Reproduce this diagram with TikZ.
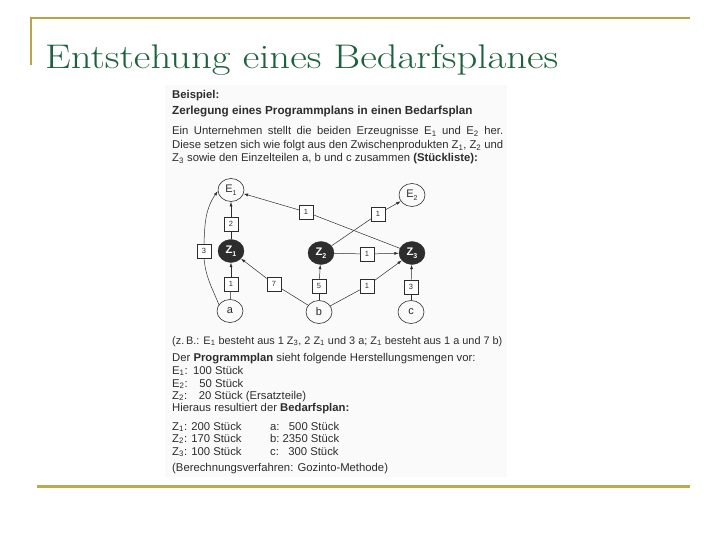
\documentclass[tikz,border=0pt]{standalone}
\usepackage{fontspec}
\usepackage{graphicx}
\usetikzlibrary{shapes.geometric,arrows.meta}
\newfontfamily\scanfont{Liberation Sans}
\definecolor{titlegreen}{RGB}{28,98,60}
\definecolor{goldline}{RGB}{188,163,72}
\definecolor{oliveline}{RGB}{184,172,78}
\definecolor{ink}{RGB}{45,45,45}
\newcommand\sbs[1]{\textsubscript{#1}}
\tikzset{
  txt/.style={anchor=base west, inner sep=0pt, text=ink, font=\scanfont\fontsize{11.3}{13}\selectfont},
  endnode/.style={ellipse, draw=ink, line width=0.6pt, minimum width=26pt, minimum height=23pt, inner sep=0pt, text=ink, font=\scanfont\fontsize{11}{11}\selectfont},
  darknode/.style={ellipse, draw=ink, fill=ink, minimum width=26pt, minimum height=23pt, inner sep=0pt, text=white, font=\scanfont\bfseries\fontsize{11}{11}\selectfont},
  qbox/.style={rectangle, draw=ink, fill=white, line width=0.5pt, minimum size=14pt, inner sep=0pt, text=ink, font=\scanfont\fontsize{7.5}{7.5}\selectfont},
  arr/.style={-{Latex[length=4.5pt,width=3pt]}, line width=0.5pt, draw=ink},
  ln/.style={line width=0.5pt, draw=ink}
}
\newcommand\lab[2]{#1\raisebox{-3pt}{\fontsize{7}{7}\selectfont #2}}
\begin{document}
\begin{tikzpicture}[x=1pt,y=-1pt]
\useasboundingbox (0,0) rectangle (720,540);
\fill[white] (0,0) rectangle (720,540);
% slide frame
\draw[goldline, line width=2pt] (30,18) -- (690,18);
\draw[goldline, line width=2pt] (31,17) -- (31,65);
\draw[oliveline, line width=3pt] (37,486) -- (690,486);
\node[anchor=base west, inner sep=0pt, text=titlegreen, font=\fontsize{34}{34}\selectfont] (title) at (45,69) {\resizebox{513pt}{24pt}{Entstehung eines Bedarfsplanes}};
% scan background
\fill[black!2] (165,85) rectangle (507,477);
% text
\node[txt, font=\scanfont\bfseries\fontsize{11.3}{13}\selectfont] (t1) at (172,99) {Beispiel:};
\node[txt, font=\scanfont\bfseries\fontsize{11.7}{13}\selectfont] (t2) at (172,115) {Zerlegung eines Programmplans in einen Bedarfsplan};
\node[txt] (t3) at (172,135) {\makebox[331pt][s]{Ein Unternehmen stellt die beiden Erzeugnisse E\sbs{1} und E\sbs{2} her.}};
\node[txt] (t4) at (172,149) {\makebox[331pt][s]{Diese setzen sich wie folgt aus den Zwischenprodukten Z\sbs{1}, Z\sbs{2} und}};
\node[txt] (t5) at (172,162) {Z\sbs{3} sowie den Einzelteilen a, b und c zusammen \textbf{(Stückliste):}};
% graph nodes
\node[endnode] (E1) at (231,190) {\lab{E}{1}};
\node[endnode] (E2) at (412,195) {\lab{E}{2}};
\node[darknode] (Z1) at (231,251) {\lab{Z}{1}};
\node[darknode] (Z2) at (321,253) {\lab{Z}{2}};
\node[darknode] (Z3) at (412,253) {\lab{Z}{3}};
\node[endnode] (a) at (230,311) {a};
\node[endnode] (b) at (319,312) {b};
\node[endnode] (c) at (411,312) {c};
% quantity boxes
\node[qbox] (k2) at (231,224) {2};
\node[qbox] (k3) at (204,251) {3};
\node[qbox] (k1a) at (231,284) {1};
\node[qbox] (k7) at (274,284) {7};
\node[qbox] (k5) at (319,286) {5};
\node[qbox] (k1b) at (367,286) {1};
\node[qbox] (k3c) at (411,287) {3};
\node[qbox] (k1m) at (367,254) {1};
\node[qbox] (k1t) at (306,212) {1};
\node[qbox] (k1e) at (378,214) {1};
% connectors
\draw[ln] (Z1) -- (k2);  \draw[arr] (k2) -- (E1);
\draw[ln] (a) -- (k1a);  \draw[arr] (k1a) -- (Z1);
\draw[ln] (a.150) to[out=112,in=-85] (k3.south);
\draw[arr] (k3.north) to[out=88,in=-125] (E1.185);
\draw[ln] (b) -- (k7);   \draw[arr] (k7) -- (Z1);
\draw[ln] (b) -- (k5);   \draw[arr] (k5) -- (Z2);
\draw[ln] (b) -- (k1b);  \draw[arr] (k1b) -- (Z3);
\draw[ln] (c) -- (k3c);  \draw[arr] (k3c) -- (Z3);
\draw[ln] (Z2) -- (k1m); \draw[arr] (k1m) -- (Z3);
\draw[ln] (Z2) -- (k1e); \draw[arr] (k1e) -- (E2);
\draw[ln] (Z3) -- (k1t); \draw[arr] (k1t) -- (E1);
% text below
\node[txt, font=\scanfont\fontsize{10.9}{13}\selectfont] (t6) at (172,344) {(z.\,B.: E\sbs{1} besteht aus 1 Z\sbs{3}, 2 Z\sbs{1} und 3 a; Z\sbs{1} besteht aus 1 a und 7 b)};
\node[txt] (t7) at (172,361) {Der \textbf{Programmplan} sieht folgende Herstellungsmengen vor:};
\node[txt] (t8) at (172,374) {E\sbs{1}: \makebox[20pt][r]{100} Stück};
\node[txt] (t9) at (172,387) {E\sbs{2}: \makebox[20pt][r]{50} Stück};
\node[txt] (t10) at (172,399) {Z\sbs{2}: \makebox[20pt][r]{20} Stück (Ersatzteile)};
\node[txt] (t11) at (172,411) {Hieraus resultiert der \textbf{Bedarfsplan:}};
\node[txt] (t12) at (172,430) {Z\sbs{1}: 200 Stück};
\node[txt] (t13) at (172,442) {Z\sbs{2}: 170 Stück};
\node[txt] (t14) at (172,455) {Z\sbs{3}: 100 Stück};
\node[txt] (t15) at (270,430) {a: \makebox[24pt][r]{500} Stück};
\node[txt] (t16) at (270,442) {b: \makebox[24pt][r]{2350} Stück};
\node[txt] (t17) at (270,455) {c: \makebox[24pt][r]{300} Stück};
\node[txt] (t18) at (172,471) {(Berechnungsverfahren: Gozinto-Methode)};
\end{tikzpicture}
\end{document}
